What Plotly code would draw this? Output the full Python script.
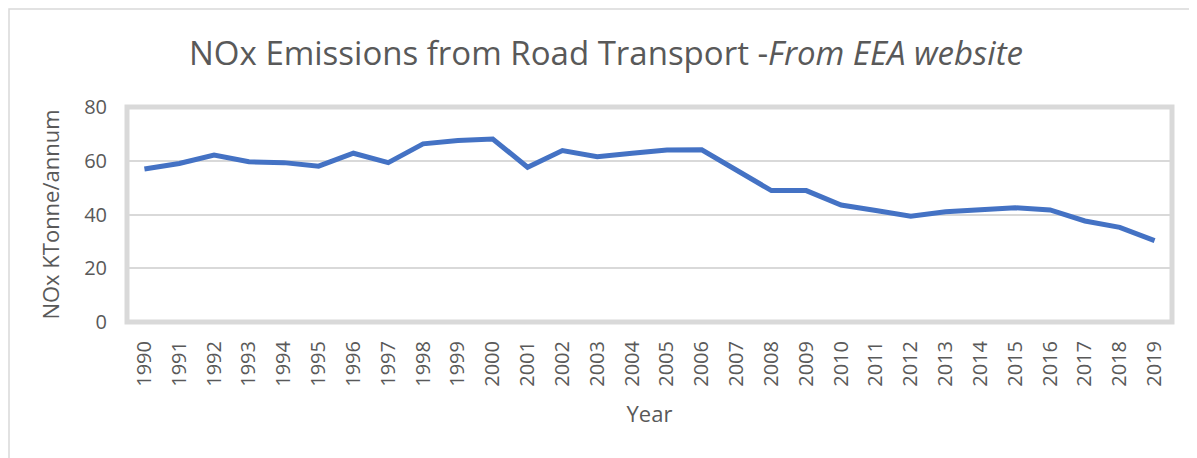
import plotly.graph_objects as go

years = [str(y) for y in range(1990, 2020)]
nox = [56.9, 59.0, 62.1, 59.6, 59.3, 58.0, 62.8, 59.3, 66.3, 67.5,
       68.1, 57.6, 63.8, 61.5, 62.8, 64.0, 64.1, 56.4, 48.9, 48.9,
       43.5, 41.5, 39.4, 41.0, 41.9, 42.5, 41.7, 37.6, 35.2, 30.3]

title_main = "NOx Emissions from Road Transport -"
title_italic = "From EEA website"
y_title = "NOx KTonne/annum"
x_title = "Year"
y_ticks = [0, 20, 40, 60, 80]

GRAY = "#595959"
BORDER = "#d9d9d9"
FONT = "Open Sans"

# page body has an 8px margin: work in page coordinates minus 8
OFF = 8
W, H = 1197 - OFF, 458 - OFF
L, R, T, B = 127 - OFF, 1172 - OFF, 107 - OFF, 322 - OFF

def fx(x):
    """figure pixel x -> paper x"""
    return (x - L) / (R - L)

def fy(y):
    """figure pixel y -> paper y"""
    return (B - y) / (B - T)

fig = go.Figure()
fig.add_trace(go.Scatter(
    x=years, y=nox, mode="lines",
    line=dict(color="#4472C4", width=5),
    hoverinfo="x+y", showlegend=False,
))

fig.update_layout(
    width=W, height=H,
    margin=dict(l=L, r=W - R, t=T, b=H - B, autoexpand=False),
    paper_bgcolor="white", plot_bgcolor="white",
    font=dict(family=FONT, color=GRAY, size=20),
    title=dict(
        text=f"{title_main}<i>{title_italic}</i>",
        font=dict(family=FONT, size=33, color=GRAY),
        x=(606 - OFF) / W, xref="container", xanchor="center",
        y=1 - (53 - OFF) / H, yref="container", yanchor="middle",
    ),
    xaxis=dict(
        type="category", range=[-0.5, len(years) - 0.5],
        tickangle=-90, showgrid=False, zeroline=False, showline=False,
        ticks="", ticklabelstandoff=14,
        tickfont=dict(family=FONT, size=20, color=GRAY),
        title=dict(text=x_title, font=dict(family=FONT, size=22, color=GRAY), standoff=20),
    ),
    yaxis=dict(
        range=[0, 80], tickvals=y_ticks, showgrid=True,
        gridcolor=BORDER, gridwidth=2, zeroline=False, showline=False,
        ticks="", ticklabelstandoff=19,
        tickfont=dict(family=FONT, size=20, color=GRAY),
        title=dict(text=y_title, font=dict(family=FONT, size=22, color=GRAY), standoff=18),
    ),
    shapes=[
        dict(type="rect", xref="paper", yref="paper", x0=0, x1=1, y0=0, y1=1,
             line=dict(color=BORDER, width=5), layer="above"),
        dict(type="rect", xref="paper", yref="paper",
             x0=fx(1), x1=fx(W + 10), y0=fy(H + 10), y1=fy(1),
             line=dict(color=BORDER, width=1.5), layer="below"),
    ],
)

fig.write_html("out.html")
